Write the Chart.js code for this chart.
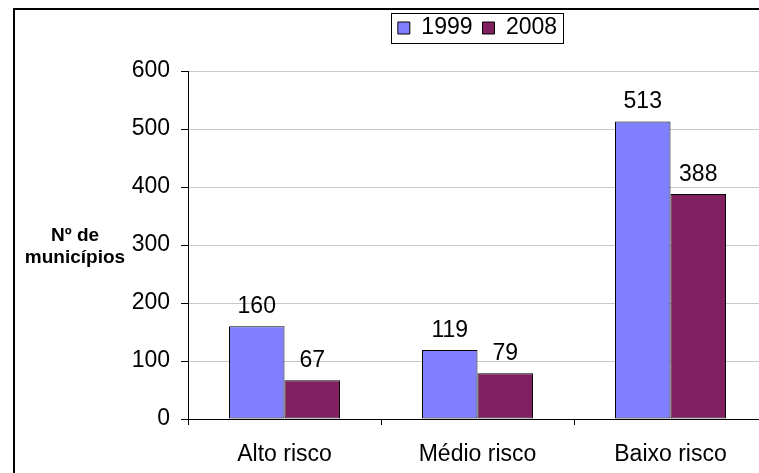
<!DOCTYPE html>
<html>
<head>
<meta charset="utf-8">
<script src="https://cdn.jsdelivr.net/npm/chart.js@4/dist/chart.umd.min.js"></script>
<style>
  html, body { margin: 0; padding: 0; background: #fff; overflow: hidden; width: 759px; height: 473px; }
  #frame { position: absolute; left: 13px; top: 8px; width: 800px; height: 500px; border-left: 2px solid #000; border-top: 2px solid #000; }
  #wrap { position: absolute; left: 0; top: 0; width: 955px; height: 473px; }
</style>
</head>
<body>
<div id="frame"></div>
<div id="wrap"><canvas id="chart" width="955" height="473"></canvas></div>
<script>
// Data
const categories = ['Alto risco', 'Médio risco', 'Baixo risco'];
const values1999 = [160, 119, 513];
const values2008 = [67, 79, 388];
const seriesLabels = ['1999', '2008'];
const yTitle = ['Nº de', 'municípios'];

const FONT = 'Arial, "Liberation Sans", sans-serif';
const FS = 23;

// Push the chart area down below the legend
const legendGap = {
  id: 'legendGap',
  beforeInit(chart) {
    const leg = chart.legend;
    if (!leg) return;
    const fit = leg.fit;
    leg.fit = function () {
      fit.call(this);
      this.height += 21.5;
    };
  },
};

// Box around the legend
const legendBox = {
  id: 'legendBox',
  afterDraw(chart) {
    const boxes = chart.legend && chart.legend.legendHitBoxes;
    if (!boxes || !boxes.length) return;
    const first = boxes[0];
    const last = boxes[boxes.length - 1];
    const cy = first.top + first.height / 2;
    const ctx = chart.ctx;
    ctx.save();
    ctx.strokeStyle = '#000';
    ctx.lineWidth = 1;
    ctx.strokeRect(Math.round(first.left - 7) + 0.5, Math.round(cy - 15) + 0.5,
      Math.round(last.left + last.width - first.left + 13), 30);
    ctx.restore();
  },
};

// Value labels above the bars
const barLabels = {
  id: 'barLabels',
  afterDatasetsDraw(chart) {
    const ctx = chart.ctx;
    ctx.save();
    ctx.font = FS + 'px ' + FONT;
    ctx.fillStyle = '#000';
    ctx.textAlign = 'center';
    ctx.textBaseline = 'alphabetic';
    chart.data.datasets.forEach((ds, i) => {
      chart.getDatasetMeta(i).data.forEach((bar, j) => {
        ctx.fillText(String(ds.data[j]), bar.x, bar.y - 13);
      });
    });
    ctx.restore();
  },
};

// Horizontal y axis title on the left
const yAxisTitle = {
  id: 'yAxisTitle',
  afterDraw(chart) {
    const ctx = chart.ctx;
    const y = chart.scales.y.getPixelForValue(300);
    ctx.save();
    ctx.font = 'bold 19px ' + FONT;
    ctx.fillStyle = '#000';
    ctx.textAlign = 'center';
    ctx.textBaseline = 'alphabetic';
    ctx.fillText(yTitle[0], 75, y - 4);
    ctx.fillText(yTitle[1], 75, y + 18);
    ctx.restore();
  },
};

new Chart(document.getElementById('chart'), {
  type: 'bar',
  data: {
    labels: categories,
    datasets: [
      {
        label: seriesLabels[0],
        data: values1999,
        backgroundColor: '#8080FF',
        borderColor: '#000',
        borderWidth: 1,
        borderSkipped: false,
      },
      {
        label: seriesLabels[1],
        data: values2008,
        backgroundColor: '#802060',
        borderColor: '#000',
        borderWidth: 1,
        borderSkipped: false,
      },
    ],
  },
  options: {
    responsive: false,
    animation: false,
    devicePixelRatio: 1,
    layout: { padding: { top: 6.5, right: 188, bottom: 0, left: 0 } },
    datasets: {
      bar: { categoryPercentage: 0.575, barPercentage: 1 },
    },
    scales: {
      x: {
        afterFit: (scale) => { scale.height = 54; },
        grid: { offset: true, drawOnChartArea: false, tickColor: '#000', tickLength: 6 },
        border: { color: '#000', width: 1 },
        ticks: { color: '#000', font: { family: FONT, size: FS }, padding: 16 },
      },
      y: {
        min: 0,
        max: 600,
        afterFit: (scale) => { scale.width = 188; },
        grid: { color: '#c8c8c8', tickColor: '#000', tickLength: 7 },
        border: { color: '#000', width: 1 },
        ticks: { stepSize: 100, color: '#000', font: { family: FONT, size: FS }, padding: 11 },
      },
    },
    plugins: {
      legend: {
        position: 'top',
        fullSize: false,
        labels: {
          color: '#000',
          font: { family: FONT, size: FS },
          boxWidth: 12,
          boxHeight: 12,
          padding: 10,
          generateLabels: (chart) => chart.data.datasets.map((ds, i) => ({
            text: ds.label,
            fillStyle: ds.backgroundColor,
            strokeStyle: '#000',
            lineWidth: 1,
            datasetIndex: i,
          })),
        },
      },
      tooltip: { enabled: false },
    },
  },
  plugins: [legendGap, legendBox, barLabels, yAxisTitle],
});
</script>
</body>
</html>
